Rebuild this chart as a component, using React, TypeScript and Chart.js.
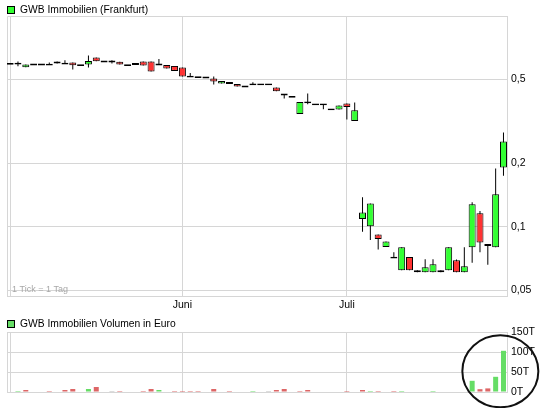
import React, { useEffect, useRef } from 'react';
import { Chart, registerables } from 'chart.js';

Chart.register(...registerables);

// ---- Data ----
// trading-day index 0 = first trading day of "Mai"
const opens = [
  0.593, 0.595, 0.572, 0.589, 0.589, 0.588, 0.595, 0.595, 0.602, 0.585,
  0.589, 0.636, 0.6085, 0.6085, 0.606, 0.585, 0.586, 0.6085, 0.6085, 0.589,
  0.586, 0.58, 0.57, 0.516, 0.513, 0.511, 0.505, 0.479, 0.487, 0.4765,
  0.463, 0.474, 0.4735, 0.4735, 0.458, 0.4245, 0.4135, 0.3425, 0.389, 0.381,
  0.381, 0.3605, 0.3605, 0.385, 0.318, 0.109, 0.1008, 0.0921, 0.0802, 0.0714,
  0.0622, 0.0719, 0.0622, 0.0609, 0.0609, 0.0622, 0.0622, 0.0694, 0.0609, 0.08,
  0.116, 0.082, 0.08, 0.191,
];
const highs = [
  0.593, 0.6085, 0.589, 0.589, 0.589, 0.602, 0.6085, 0.617, 0.602, 0.585,
  0.65, 0.636, 0.6085, 0.617, 0.606, 0.585, 0.599, 0.6085, 0.6085, 0.626,
  0.586, 0.58, 0.57, 0.536, 0.513, 0.511, 0.517, 0.492, 0.487, 0.4765,
  0.463, 0.485, 0.4735, 0.4735, 0.458, 0.4245, 0.4135, 0.3915, 0.429, 0.381,
  0.381, 0.3605, 0.3765, 0.385, 0.389, 0.138, 0.129, 0.0921, 0.0853, 0.0757,
  0.08, 0.0719, 0.0622, 0.0703, 0.0703, 0.0622, 0.08, 0.07, 0.08, 0.1307,
  0.119, 0.082, 0.189, 0.28,
];
const lows = [
  0.593, 0.578, 0.572, 0.589, 0.589, 0.588, 0.595, 0.595, 0.558, 0.585,
  0.57, 0.61, 0.6085, 0.595, 0.589, 0.585, 0.586, 0.583, 0.546, 0.589,
  0.564, 0.549, 0.517, 0.516, 0.513, 0.511, 0.4735, 0.479, 0.4765, 0.463,
  0.463, 0.474, 0.4735, 0.4735, 0.44, 0.406, 0.4135, 0.3425, 0.381, 0.381,
  0.3615, 0.3605, 0.3605, 0.323, 0.318, 0.0948, 0.0866, 0.0782, 0.0802, 0.0714,
  0.0622, 0.0622, 0.0609, 0.0609, 0.0609, 0.0609, 0.0622, 0.0609, 0.0609, 0.0676,
  0.0757, 0.0662, 0.08, 0.1746,
];
const closes = [
  0.593, 0.595, 0.589, 0.589, 0.589, 0.588, 0.6085, 0.595, 0.584, 0.585,
  0.6125, 0.61, 0.6085, 0.6085, 0.589, 0.585, 0.599, 0.583, 0.546, 0.589,
  0.564, 0.549, 0.517, 0.516, 0.513, 0.511, 0.489, 0.492, 0.4765, 0.463,
  0.463, 0.474, 0.4735, 0.4735, 0.44, 0.4245, 0.4135, 0.3915, 0.389, 0.381,
  0.381, 0.3605, 0.3765, 0.37, 0.357, 0.117, 0.129, 0.0875, 0.0853, 0.0714,
  0.08, 0.0622, 0.0609, 0.0643, 0.0664, 0.0609, 0.08, 0.0609, 0.065, 0.128,
  0.0844, 0.082, 0.1426, 0.254,
];
// volume in thousand euro (T)
const volumes = [
  0, 2.5, 5, 0, 0, 2.5, 0, 5, 7.5, 0,
  7.5, 12.5, 0, 2.5, 2.5, 0, 0, 2.5, 7.5, 5,
  0, 2.5, 2.5, 2.5, 2.5, 0, 7.5, 0, 2.5, 0,
  0, 2.5, 0, 2.5, 5, 7.5, 0, 2.5, 5, 0,
  0, 0, 0, 2.5, 0, 5, 2.5, 2.5, 0, 2.5,
  2.5, 0, 0, 0, 2.5, 0, 0, 0, 0, 28,
  7, 9, 38, 103,
];
const monthTickIdx = [0, 22, 43];
const monthTickLabels = ['', 'Juni', 'Juli'];
const priceTicks = [0.05, 0.1, 0.2, 0.5];
const priceTickLabels = ['0,05', '0,1', '0,2', '0,5'];
const volumeTicks = [0, 50, 100, 150];
const volumeTickLabels = ['0T', '50T', '100T', '150T'];
const priceTitle = 'GWB Immobilien (Frankfurt)';
const volumeTitle = 'GWB Immobilien Volumen in Euro';
const tickNote = '1 Tick = 1 Tag';

// ---- Styles ----
const FONT = "'Liberation Sans', Arial, sans-serif";
const UP = '#33ff33';
const DOWN = '#ff3333';
const VOL_UP = '#66dd66';
const VOL_DOWN = '#dd6666';
const VOL_FLAT = '#bbbbbb';
const GRID = '#d6d6d6';

const days = closes.map((_, i) => i);

function framePlugin(id: string) {
  return {
    id,
    beforeDatasetsDraw(chart: any) {
      const { ctx, chartArea } = chart;
      ctx.save();
      ctx.strokeStyle = GRID;
      ctx.lineWidth = 1;
      ctx.beginPath();
      ctx.moveTo(chartArea.left + 0.5, chartArea.bottom);
      ctx.lineTo(chartArea.left + 0.5, chartArea.top + 0.5);
      ctx.lineTo(chartArea.right, chartArea.top + 0.5);
      ctx.stroke();
      ctx.restore();
    },
  };
}

function legendPlugin(id: string, text: string, fill: string, top: number, size: number) {
  return {
    id,
    afterDraw(chart: any) {
      const { ctx } = chart;
      ctx.save();
      ctx.fillStyle = fill;
      ctx.fillRect(7, top, 8, 8);
      ctx.strokeStyle = '#000';
      ctx.lineWidth = 1;
      ctx.strokeRect(7.5, top + 0.5, 7, 7);
      ctx.fillStyle = '#000';
      ctx.font = `${size}px ${FONT}`;
      ctx.textBaseline = 'middle';
      ctx.textAlign = 'left';
      ctx.fillText(text, 20, top + 4);
      ctx.restore();
    },
  };
}

const notePlugin = {
  id: 'note',
  afterDatasetsDraw(chart: any) {
    const { ctx, chartArea } = chart;
    ctx.save();
    ctx.fillStyle = '#a8a8a8';
    ctx.font = `9px ${FONT}`;
    ctx.textBaseline = 'middle';
    ctx.textAlign = 'left';
    ctx.fillText(tickNote, chartArea.left + 5, chartArea.bottom - 6);
    ctx.restore();
  },
};

const circlePlugin = {
  id: 'circle',
  afterDraw(chart: any) {
    const { ctx, scales } = chart;
    const cx = scales.x.getPixelForValue(62.6);
    const cy = scales.y.getPixelForValue(52);
    ctx.save();
    ctx.strokeStyle = '#111';
    ctx.lineWidth = 2;
    ctx.beginPath();
    ctx.ellipse(cx, cy, 38, 36, 0, 0, Math.PI * 2);
    ctx.stroke();
    ctx.restore();
  },
};

function xScale(showLabels: boolean, height: number) {
  return {
    type: 'linear' as const,
    position: 'bottom' as const,
    min: -0.4,
    max: 63.45,
    offset: false,
    bounds: 'data',
    afterFit: (s: any) => { s.height = height; },
    afterBuildTicks: (s: any) => { s.ticks = monthTickIdx.map((v) => ({ value: v })); },
    grid: { color: GRID, drawTicks: false, lineWidth: 1, offset: false },
    border: { color: GRID },
    ticks: {
      display: showLabels,
      autoSkip: false,
      maxRotation: 0,
      padding: 3,
      color: '#000',
      font: { family: FONT, size: 10.5 },
      callback: (_v: any, i: number) => monthTickLabels[i],
    },
  };
}

export default function App() {
  const priceRef = useRef<HTMLCanvasElement>(null);
  const volRef = useRef<HTMLCanvasElement>(null);

  useEffect(() => {
    const bodyData = days.map((i) => {
      const o = opens[i];
      const c = closes[i];
      if (o === c) return { x: i, y: [c / 1.01, c * 1.01] };
      return { x: i, y: [Math.min(o, c), Math.max(o, c)] };
    });
    const bodyColors = days.map((i) =>
      closes[i] > opens[i] ? UP : closes[i] < opens[i] ? DOWN : '#000'
    );
    const wickData = days.map((i) => ({ x: i, y: [lows[i], highs[i]] }));

    const price = new Chart(priceRef.current as HTMLCanvasElement, {
      type: 'bar',
      data: {
        datasets: [
          {
            label: 'body',
            data: bodyData as any,
            backgroundColor: bodyColors,
            borderColor: '#000',
            borderWidth: 1,
            borderSkipped: false,
            grouped: false,
            barThickness: 7,
            maxBarThickness: 7,
            inflateAmount: 0,
            order: 0,
          } as any,
          {
            label: 'wick',
            data: wickData as any,
            backgroundColor: '#000',
            borderWidth: 0,
            grouped: false,
            barThickness: 1,
            maxBarThickness: 1,
            inflateAmount: 0,
            order: 1,
          } as any,
        ],
      },
      options: {
        responsive: false,
        animation: false,
        events: [],
        layout: { padding: { left: 7, top: 16, right: 0, bottom: 0 } },
        plugins: { legend: { display: false }, tooltip: { enabled: false }, title: { display: false } },
        scales: {
          x: xScale(true, 16) as any,
          y: {
            type: 'logarithmic',
            position: 'right',
            min: 0.047,
            max: 1.0,
            bounds: 'data',
            afterFit: (s: any) => { s.width = 48; },
            afterBuildTicks: (s: any) => { s.ticks = priceTicks.map((v) => ({ value: v })); },
            grid: { color: GRID, drawTicks: false },
            border: { color: GRID },
            ticks: {
              padding: 4,
              color: '#000',
              font: { family: FONT, size: 10.5 },
              callback: (_v: any, i: number) => priceTickLabels[i],
            },
          } as any,
        },
      },
      plugins: [framePlugin('frameP'), notePlugin, legendPlugin('legP', priceTitle, UP, 6, 10.3)],
    });

    const volColors = days.map((i) =>
      i === 0 || closes[i] === closes[i - 1] ? VOL_FLAT : closes[i] > closes[i - 1] ? VOL_UP : VOL_DOWN
    );

    const vol = new Chart(volRef.current as HTMLCanvasElement, {
      type: 'bar',
      data: {
        datasets: [
          {
            label: 'volume',
            data: days.map((i) => ({ x: i, y: volumes[i] })) as any,
            backgroundColor: volColors,
            borderWidth: 0,
            grouped: false,
            barThickness: 5,
            maxBarThickness: 5,
            inflateAmount: 0,
          } as any,
        ],
      },
      options: {
        responsive: false,
        animation: false,
        events: [],
        layout: { padding: { left: 7, top: 20, right: 0, bottom: 0 } },
        plugins: { legend: { display: false }, tooltip: { enabled: false }, title: { display: false } },
        scales: {
          x: xScale(false, 16) as any,
          y: {
            type: 'linear',
            position: 'right',
            min: 0,
            max: 150,
            afterFit: (s: any) => { s.width = 48; },
            afterBuildTicks: (s: any) => { s.ticks = volumeTicks.map((v) => ({ value: v })); },
            grid: { color: GRID, drawTicks: false },
            border: { color: GRID },
            ticks: {
              padding: 4,
              color: '#000',
              font: { family: FONT, size: 10.5 },
              callback: (_v: any, i: number) => volumeTickLabels[i],
            },
          } as any,
        },
      },
      plugins: [framePlugin('frameV'), legendPlugin('legV', volumeTitle, VOL_UP, 8, 10.3), circlePlugin],
    });

    return () => {
      price.destroy();
      vol.destroy();
    };
  }, []);

  return (
    <div style={{ position: 'absolute', left: 0, top: 0, width: 555, height: 408, background: '#fff' }}>
      <canvas
        ref={priceRef}
        width={555}
        height={312}
        style={{ position: 'absolute', left: 0, top: 0, width: 555, height: 312 }}
      />
      <canvas
        ref={volRef}
        width={555}
        height={96}
        style={{ position: 'absolute', left: 0, top: 312, width: 555, height: 96 }}
      />
    </div>
  );
}
